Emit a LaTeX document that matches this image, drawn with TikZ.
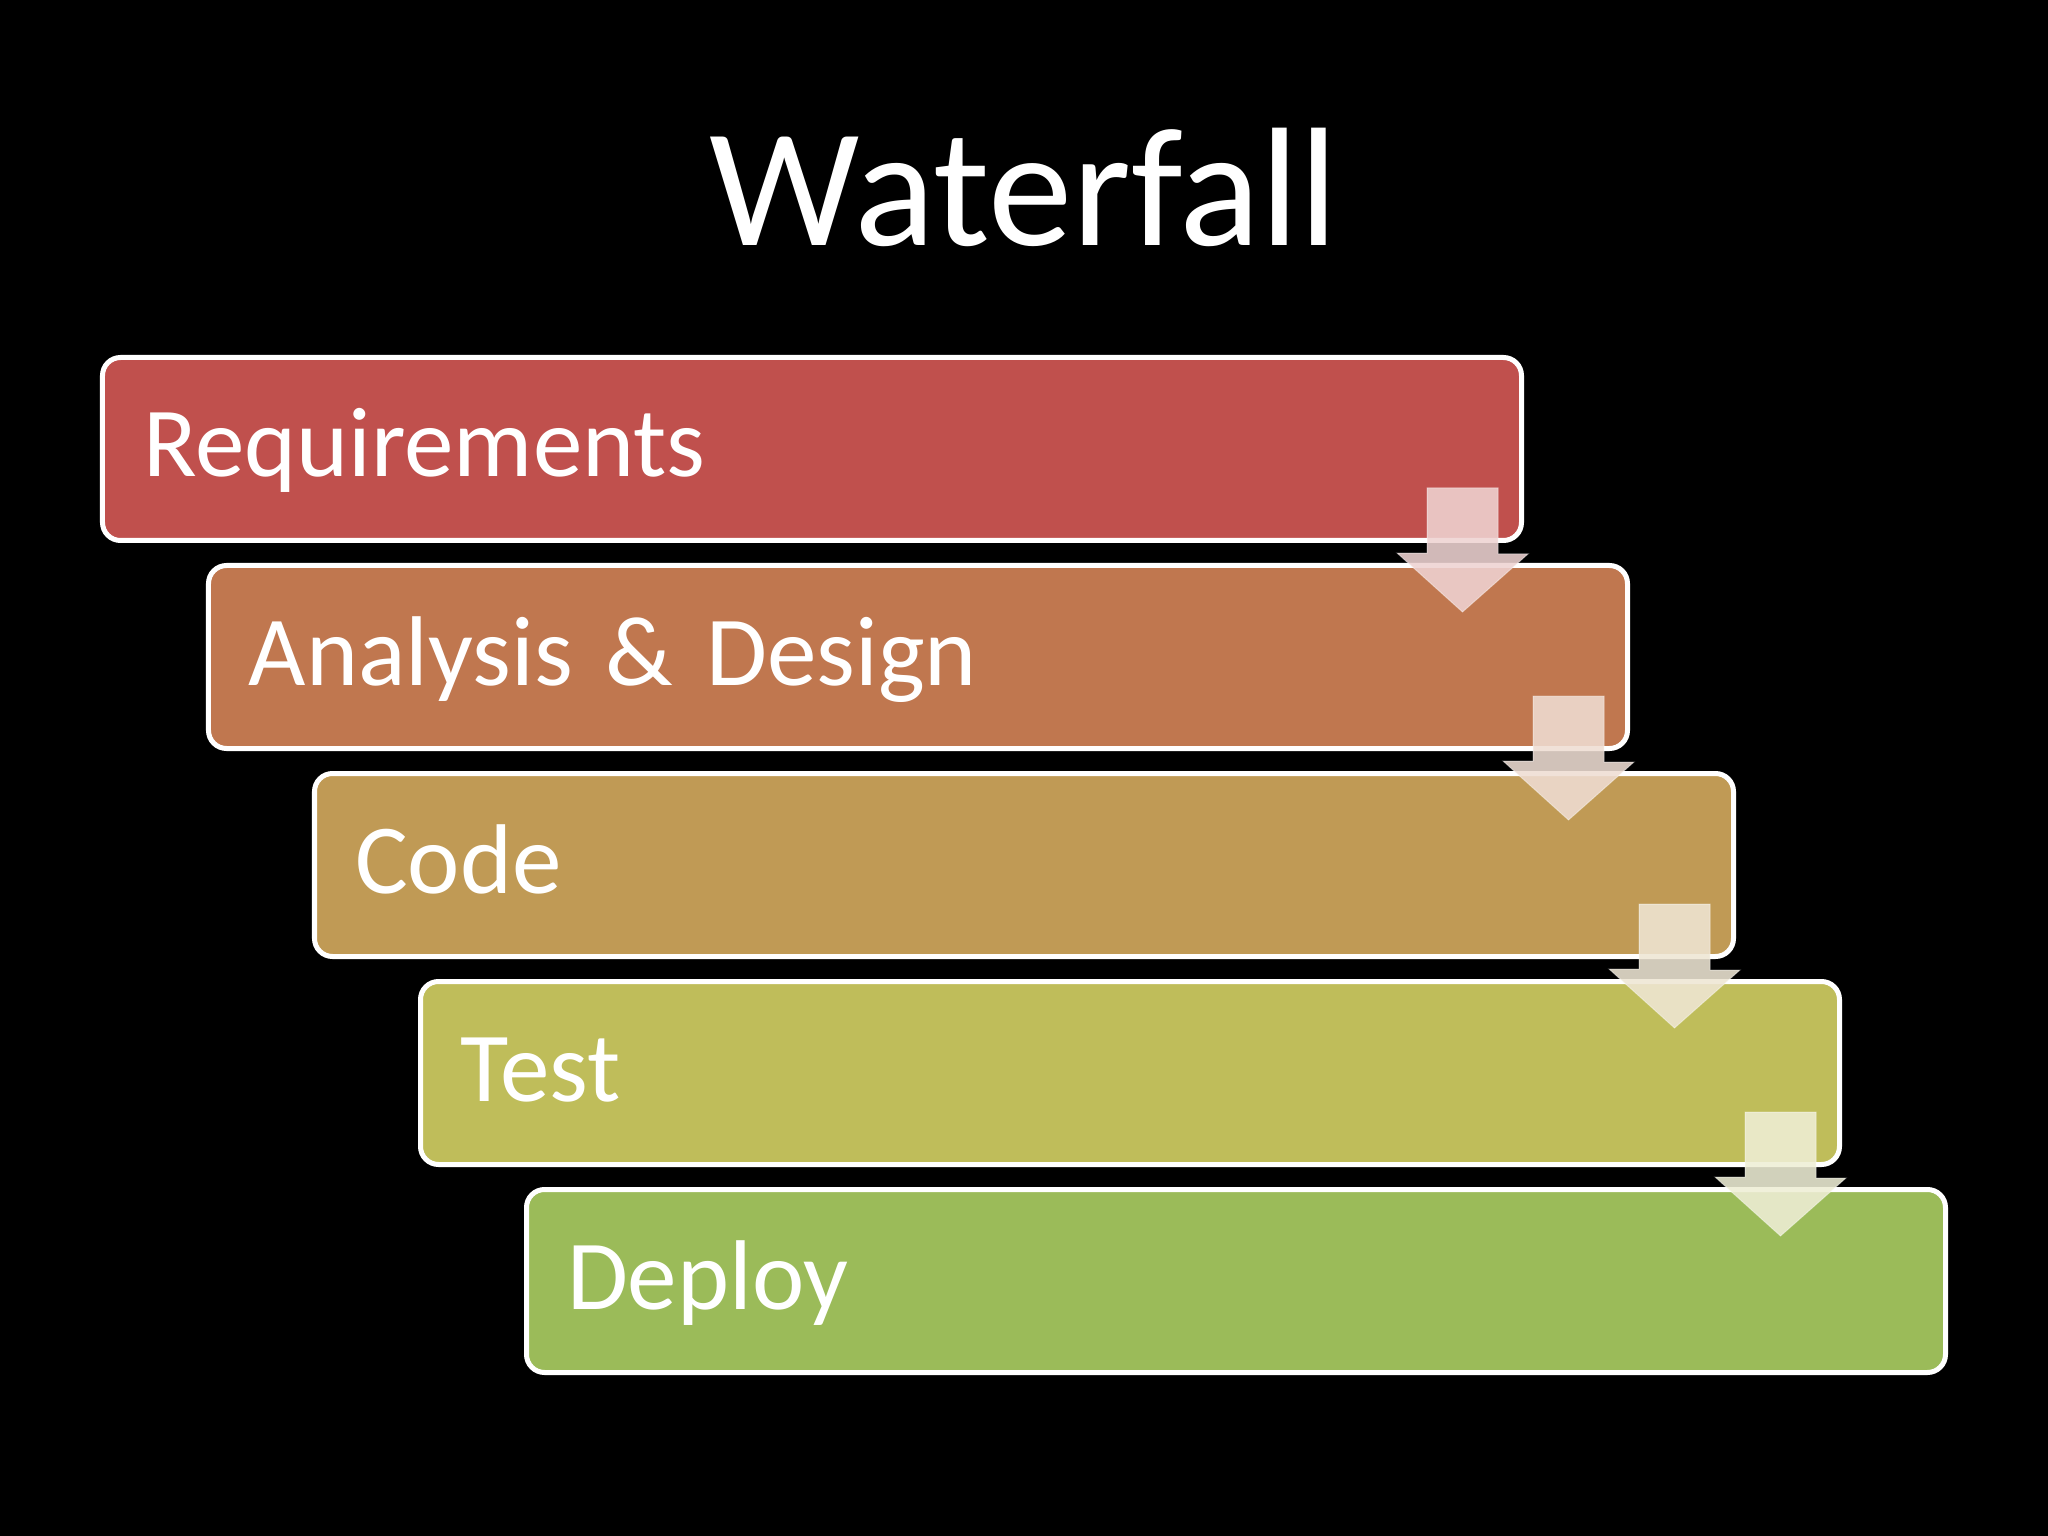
\documentclass[tikz,border=0pt]{standalone}
\usepackage{fontspec}
\setmainfont{Carlito}[WordSpace=0.7]
\usetikzlibrary{calc}

\definecolor{reqred}{HTML}{C0504D}
\definecolor{anaorange}{HTML}{C0774F}
\definecolor{codegold}{HTML}{C09A55}
\definecolor{testolive}{HTML}{BFBD5A}
\definecolor{deploygreen}{HTML}{9BBB59}

\begin{document}
\begin{tikzpicture}
    % Define styles
    \tikzset{
        stage/.style={
            draw=white,
            line width=0.05cm,
            rounded corners=0.18cm,
            text=white,
            text width=13.38cm,
            inner xsep=0.405cm,
            minimum height=1.83cm,
            align=left,
            text height=0.56cm,
            text depth=0cm,
            font=\fontsize{28.2pt}{34pt}\selectfont
        },
        fall/.style={
            fill opacity=0.88,
            draw=white,
            draw opacity=0.4,
            line width=0.01cm
        },
        title/.style={
            text=white,
            font=\fontsize{48.1pt}{58pt}\selectfont
        }
    }

    % Background
    \fill[black] (0,0) rectangle (20.48,-15.36);
    \useasboundingbox (0,0) rectangle (20.48,-15.36);

    % Title
    \node[title, anchor=base] (title) at (10.24,-2.455) {Waterfall};

    % Stages, each one step down and to the right
    \foreach \name/\txt/\col [count=\i from 0] in {req/Requirements/reqred, ana/Analysis \& Design/anaorange, code/Code/codegold, test/Test/testolive, deploy/Deploy/deploygreen}
        \node[stage, fill=\col] (\name) at (8.12+1.06*\i, -4.49-2.08*\i) {\txt};

    % Block arrows falling from one stage into the next
    \foreach \a/\b/\col [count=\i] in {req/ana/reqred, ana/code/anaorange, code/test/codegold, test/deploy/testolive} {
        \coordinate (s\i) at ([xshift=-0.615cm, yshift=0.55cm]\a.south east);
        \coordinate (e\i) at ($(s\i |- \b.north)+(0,-0.49)$);
        \draw[fall, fill=\col!25!white] (s\i) ++(-0.355,0) -- ++(0.71,0) -- ++(0,-0.66) -- ++(0.30,0)
            -- (e\i) -- ++(-0.655,0.59) -- ++(0.30,0) -- cycle;
    }

\end{tikzpicture}
\end{document}
